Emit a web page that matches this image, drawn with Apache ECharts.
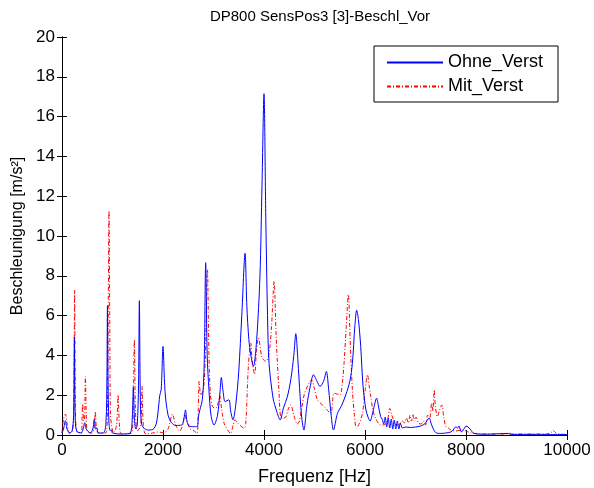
<!DOCTYPE html>
<html><head><meta charset="utf-8">
<script src="https://cdn.jsdelivr.net/npm/echarts@6/dist/echarts.min.js"></script>
<style>html,body{margin:0;padding:0;background:#fff}#c{width:594px;height:488px}</style>
</head><body><div id="c"></div>
<script>
const title = 'DP800 SensPos3 [3]-Beschl_Vor';
const xTicks = [0, 2000, 4000, 6000, 8000, 10000];
const yTicks = [0, 2, 4, 6, 8, 10, 12, 14, 16, 18, 20];
const seriesNames = ['Ohne_Verst', 'Mit_Verst'];

const ohneFreq = [0,30,67,100,150,200,230,245,260,290,380,420,450,480,560,610,640,665,690,720,820,870,890,900,910,930,960,980,1000,1200,1350,1390,1413,1435,1460,1490,1515,1532,1550,1572,1620,1700,1800,1870,1920,1935,1965,2000,2040,2100,2170,2250,2370,2420,2445,2475,2520,2600,2675,2700,2730,2780,2815,2845,2875,2910,2950,3010,3080,3130,3155,3190,3230,3305,3340,3385,3440,3500,3560,3625,3660,3700,3740,3790,3855,3920,3960,4000,4035,4070,4100,4180,4250,4320,4385,4460,4530,4590,4630,4670,4715,4750,4790,4850,4920,4980,5050,5110,5180,5235,5280,5330,5375,5455,5540,5620,5700,5750,5800,5835,5870,5915,5960,6015,6060,6100,6160,6230,6270,6310,6340,6370,6400,6430,6460,6490,6520,6550,6580,6610,6640,6670,6700,6740,6800,6900,7000,7100,7180,7270,7320,7400,7500,7600,7700,7760,7800,7830,7860,7910,7960,8000,8040,8080,8160,8400,8845,8900,9400,10000];
const ohneVal = [0.1,0.3,0.72,0.3,0.1,0.2,1.0,4.9,1.0,0.2,0.1,0.3,0.62,0.3,0.1,0.3,0.8,0.3,0.35,0.1,0.1,0.6,3.0,6.5,3.0,0.6,0.2,0.25,0.1,0.05,0.1,0.8,2.43,0.8,0.3,0.5,2.5,6.75,2.0,0.6,0.35,0.25,0.28,0.6,1.6,1.98,2.3,4.45,2.2,1.0,0.62,0.48,0.5,0.9,1.26,0.7,0.45,0.42,0.42,0.9,1.26,1.8,3.5,8.66,4.0,2.27,1.0,0.5,1.0,2.2,2.89,2.2,1.68,1.77,1.2,0.76,1.5,3.2,6.0,9.13,6.5,4.8,4.0,3.45,4.8,8.0,12.5,17.15,11.0,6.0,3.6,1.85,1.2,0.76,1.36,1.9,2.77,4.0,5.09,3.8,1.93,0.8,0.25,1.5,2.5,3.03,2.7,2.44,2.7,3.19,2.3,1.0,0.25,1.09,1.5,2.02,2.7,3.6,5.5,6.27,5.8,4.45,2.5,1.3,0.9,0.7,1.2,1.85,1.4,0.92,0.8,0.55,0.9,0.4,0.85,0.35,0.8,0.3,0.75,0.3,0.7,0.3,0.6,0.35,0.4,0.38,0.4,0.45,0.55,0.85,0.5,0.12,0.08,0.1,0.15,0.3,0.42,0.35,0.45,0.15,0.3,0.45,0.4,0.3,0.08,0.04,0.08,0.03,0.03,0.02];

const mitFreq = [0,30,67,100,150,210,235,250,265,290,380,400,410,430,450,463,480,500,600,640,660,680,720,870,900,915,930,945,960,990,1020,1080,1110,1140,1180,1380,1410,1433,1455,1490,1560,1585,1610,1660,1800,1900,2000,2100,2185,2250,2330,2400,2430,2470,2540,2620,2675,2700,2715,2750,2800,2840,2880,2910,2940,2980,3045,3100,3125,3160,3210,3280,3340,3390,3425,3500,3605,3640,3690,3737,3770,3815,3850,3890,3960,4035,4100,4150,4200,4240,4295,4345,4430,4480,4530,4590,4660,4700,4795,4870,4940,5000,5060,5190,5320,5390,5505,5550,5585,5630,5670,5710,5750,5790,5830,5890,5950,6000,6050,6080,6115,6160,6210,6310,6410,6460,6490,6530,6575,6620,6680,6740,6780,6820,6860,6890,6920,6950,6980,7010,7060,7110,7160,7200,7240,7280,7320,7345,7370,7395,7435,7470,7520,7560,7600,7650,7700,7800,7900,8000,8100,8300,9000,9600,9700,9730,9780,9850,10000];
const mitVal = [0.1,0.8,1.05,0.6,0.1,0.2,2.0,7.28,1.5,0.2,0.1,1.0,1.56,0.7,1.0,2.94,1.0,0.2,0.1,0.5,1.18,0.4,0.1,0.1,1.5,6.0,11.26,6.0,1.0,0.35,0.1,0.5,2.02,0.4,0.05,0.1,1.5,4.79,1.2,0.2,0.5,2.44,0.5,0.05,0.1,0.15,0.12,0.3,1.05,0.5,0.2,0.6,1.05,0.7,0.3,0.2,0.08,1.5,2.69,2.0,2.3,4.0,8.32,4.0,2.0,1.43,1.35,1.7,1.97,1.3,0.59,0.25,0.08,0.5,0.76,0.55,0.34,0.6,3.45,4.62,3.6,3.05,4.2,4.87,3.9,3.7,4.1,5.5,7.73,5.0,2.27,0.84,0.9,1.3,1.51,1.0,0.55,0.7,2.02,2.5,2.77,2.3,1.77,1.43,1.09,2.1,2.02,2.6,3.6,5.5,7.06,4.5,2.27,1.0,0.34,0.6,1.09,2.2,3.03,2.5,1.93,1.2,0.84,0.5,0.55,0.9,1.34,1.0,0.7,0.5,0.55,0.7,0.6,0.85,0.6,1.0,0.7,1.05,0.7,0.9,0.6,0.55,0.7,0.5,1.0,0.8,1.6,1.2,2.27,1.4,0.92,1.2,1.51,0.9,0.42,0.35,0.25,0.2,0.25,0.2,0.1,0.05,0.05,0.05,0.15,0.22,0.1,0.05,0.03];

const zip = (a, b) => a.map((v, i) => [v, b[i]]);
const FONT = 'Liberation Sans, Arial, sans-serif';
const chart = echarts.init(document.getElementById('c'), null, {renderer: 'canvas'});
const axisCommon = {
  axisLine: {show: true, lineStyle: {color: '#000', width: 1}},
  axisTick: {show: true, inside: true, length: 5, lineStyle: {color: '#000'}},
  splitLine: {show: false},
};
const plain = v => String(v);
chart.setOption({
  animation: false,
  backgroundColor: '#fff',
  title: {text: title, left: 315, textAlign: 'center', top: 4,
    textStyle: {fontFamily: FONT, fontSize: 15, fontWeight: 'normal', color: '#000'}},
  grid: {left: 62, right: 27, top: 37, bottom: 53, containLabel: false, outerBoundsMode: 'none'},
  legend: {
    data: seriesNames, orient: 'vertical', left: 374, top: 46,
    padding: [7, 10, 6, 12], itemGap: 5, itemWidth: 56, itemHeight: 18,
    backgroundColor: '#fff', borderColor: '#000', borderWidth: 1, borderRadius: 0,
    itemStyle: {opacity: 0},
    textStyle: {fontFamily: FONT, fontSize: 18, color: '#000', width: 100, lineHeight: 19}
  },
  xAxis: [
    Object.assign({type: 'value', min: xTicks[0], max: xTicks[xTicks.length - 1], interval: 2000,
      name: 'Frequenz [Hz]', nameLocation: 'middle', nameGap: 33,
      nameTextStyle: {fontFamily: FONT, fontSize: 18, color: '#000'},
      axisLabel: {fontFamily: FONT, fontSize: 17, color: '#000', margin: 7, formatter: plain}}, axisCommon),
    Object.assign({type: 'value', position: 'top', min: 0, max: 10000, interval: 2000,
      axisLabel: {show: false}}, axisCommon)
  ],
  yAxis: [
    Object.assign({type: 'value', min: yTicks[0], max: yTicks[yTicks.length - 1], interval: 2,
      name: 'Beschleunigung [m/s²]', nameLocation: 'middle', nameGap: 36, nameRotate: 90,
      nameTextStyle: {fontFamily: FONT, fontSize: 16, color: '#000'},
      axisLabel: {fontFamily: FONT, fontSize: 17, color: '#000', margin: 7, formatter: plain}}, axisCommon),
    Object.assign({type: 'value', position: 'right', min: 0, max: 20, interval: 2,
      axisLabel: {show: false}}, axisCommon)
  ],
  series: [
    {name: seriesNames[0], type: 'line', data: zip(ohneFreq, ohneVal), symbol: 'none', smooth: 0.3,
      lineStyle: {color: '#0000ff', width: 1}, itemStyle: {color: '#0000ff'}, z: 3},
    {name: seriesNames[1], type: 'line', data: zip(mitFreq, mitVal), symbol: 'none', smooth: 0.3,
      lineStyle: {color: '#ff0000', width: 1, type: [4, 2, 1, 2]}, itemStyle: {color: '#ff0000'}, z: 2}
  ]
});
</script></body></html>
